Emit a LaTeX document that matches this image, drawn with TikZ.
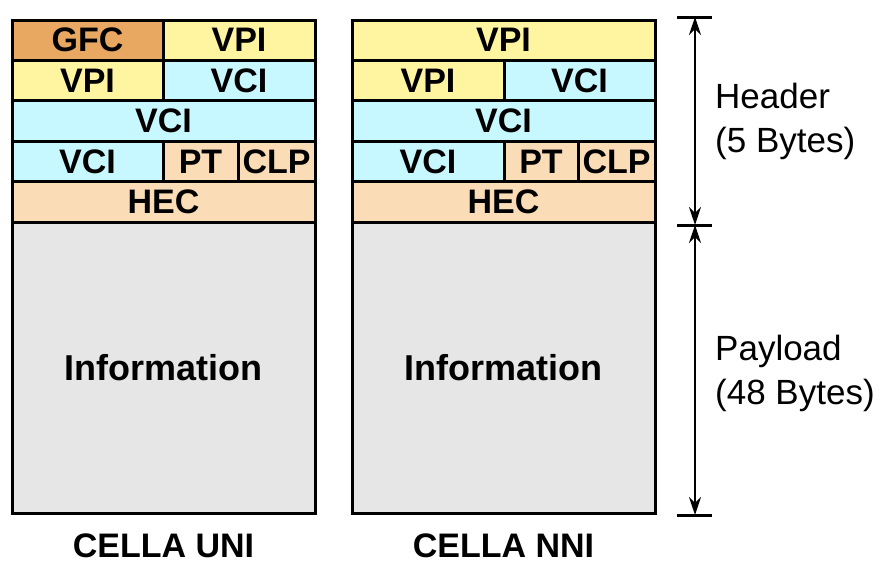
\documentclass[tikz,border=0pt]{standalone}
\usepackage{fontspec}
\setmainfont{Liberation Sans}
\usetikzlibrary{arrows.meta,positioning}
\definecolor{gfcorange}{RGB}{232,168,98}
\definecolor{vpiyellow}{RGB}{255,244,160}
\definecolor{vcicyan}{RGB}{200,248,255}
\definecolor{hecpeach}{RGB}{250,220,182}
\definecolor{infogray}{RGB}{230,230,230}
\tikzset{
    cell/.style={draw,line width=3pt,inner sep=0pt,outer sep=0pt,minimum height=40.4pt,
        font=\fontsize{34}{34}\selectfont\bfseries},
    infobox/.style={draw,line width=3pt,inner sep=0pt,outer sep=0pt,fill=infogray,
        minimum width=303pt,minimum height=291pt,font=\fontsize{36}{36}\selectfont\bfseries},
    dimline/.style={{Stealth[length=18pt,width=12pt]}-{Stealth[length=18pt,width=12pt]},line width=2pt},
    tickline/.style={line width=3pt},
    sizelabel/.style={align=left,anchor=west,inner sep=0pt,font=\fontsize{35}{44}\selectfont},
    cellname/.style={inner sep=0pt,outer sep=0pt,font=\fontsize{34}{34}\selectfont\bfseries}
}
\begin{document}
\begin{tikzpicture}[x=1pt,y=-1pt]
    \useasboundingbox (0,0) rectangle (893,568);

    % cella UNI
    \node[cell,fill=gfcorange,minimum width=151pt,anchor=north west] (gfc) at (12,20) {GFC};
    \node[cell,fill=vpiyellow,minimum width=152pt,right=0pt of gfc] (uvpia) {VPI};
    \node[cell,fill=vpiyellow,minimum width=151pt,below right=0pt and 0pt of gfc.south west] (uvpib) {VPI};
    \node[cell,fill=vcicyan,minimum width=152pt,right=0pt of uvpib] (uvcia) {VCI};
    \node[cell,fill=vcicyan,minimum width=303pt,below right=0pt and 0pt of uvpib.south west] (uvcib) {VCI};
    \node[cell,fill=vcicyan,minimum width=151pt,below right=0pt and 0pt of uvcib.south west] (uvcic) {VCI};
    \node[cell,fill=hecpeach,minimum width=75pt,right=0pt of uvcic] (upt) {PT};
    \node[cell,fill=hecpeach,minimum width=77pt,right=0pt of upt] (uclp) {CLP};
    \node[cell,fill=hecpeach,minimum width=303pt,below right=0pt and 0pt of uvcic.south west] (uhec) {HEC};
    \node[infobox,below right=0pt and 0pt of uhec.south west] (uinfo) {Information};
    \node[cellname,below=21pt of uinfo] (uname) {CELLA UNI};

    % cella NNI
    \node[cell,fill=vpiyellow,minimum width=303pt,anchor=north west] (nvpia) at (352,20) {VPI};
    \node[cell,fill=vpiyellow,minimum width=152pt,below right=0pt and 0pt of nvpia.south west] (nvpib) {VPI};
    \node[cell,fill=vcicyan,minimum width=151pt,right=0pt of nvpib] (nvcia) {VCI};
    \node[cell,fill=vcicyan,minimum width=303pt,below right=0pt and 0pt of nvpib.south west] (nvcib) {VCI};
    \node[cell,fill=vcicyan,minimum width=152pt,below right=0pt and 0pt of nvcib.south west] (nvcic) {VCI};
    \node[cell,fill=hecpeach,minimum width=74pt,right=0pt of nvcic] (npt) {PT};
    \node[cell,fill=hecpeach,minimum width=77pt,right=0pt of npt] (nclp) {CLP};
    \node[cell,fill=hecpeach,minimum width=303pt,below right=0pt and 0pt of nvcic.south west] (nhec) {HEC};
    \node[infobox,below right=0pt and 0pt of nhec.south west] (ninfo) {Information};
    \node[cellname,below=21pt of ninfo] (nname) {CELLA NNI};

    % quote
    \coordinate (toptick) at (695,17);
    \coordinate (midtick) at (695,225);
    \coordinate (bottick) at (695,515);
    \foreach \t in {toptick,midtick,bottick}
        \draw[tickline] ([xshift=-18pt]\t) -- ([xshift=17pt]\t);
    \draw[dimline] (toptick) -- (midtick);
    \draw[dimline] (midtick) -- (bottick);
    \node[sizelabel] (header) at (715,121) {Header\\(5 Bytes)};
    \node[sizelabel] (payload) at (715,373) {Payload\\(48 Bytes)};
\end{tikzpicture}
\end{document}
